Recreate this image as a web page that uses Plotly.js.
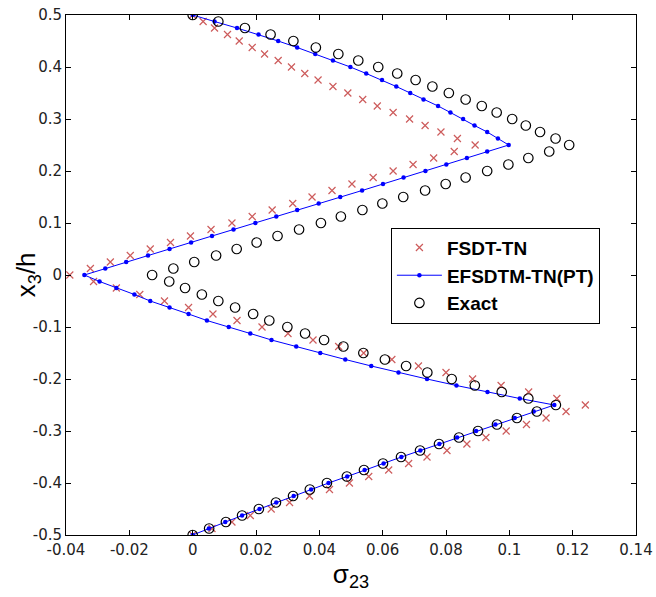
<!DOCTYPE html>
<html>
<head>
<meta charset="utf-8">
<script src="https://cdn.plot.ly/plotly-3.0.1.min.js"></script>
<style>
html,body{margin:0;padding:0;background:#fff;}
#chart{width:656px;height:597px;}
</style>
</head>
<body>
<div id="chart"></div>
<script>
// through-thickness coordinate x3/h (shared by all series)
const x3h = [-0.5,-0.4875,-0.475,-0.4625,-0.45,-0.4375,-0.425,-0.4125,-0.4,-0.3875,-0.375,-0.3625,-0.35,-0.3375,-0.325,-0.3125,-0.3,-0.2875,-0.275,-0.2625,
  -0.25,-0.2375,-0.225,-0.2125,-0.2,-0.1875,-0.175,-0.1625,-0.15,-0.1375,-0.125,-0.1125,-0.1,-0.0875,-0.075,-0.0625,-0.05,-0.0375,-0.025,-0.0125,
  0,0.0125,0.025,0.0375,0.05,0.0625,0.075,0.0875,0.1,0.1125,0.125,0.1375,0.15,0.1625,0.175,0.1875,0.2,0.2125,0.225,0.2375,
  0.25,0.2625,0.275,0.2875,0.3,0.3125,0.325,0.3375,0.35,0.3625,0.375,0.3875,0.4,0.4125,0.425,0.4375,0.45,0.4625,0.475,0.4875,0.5];

// sigma_23 : FSDT-TN
const fsdtTN = [0,0.0061,0.0124,0.0182,0.0248,0.0306,0.0369,0.0432,0.0495,0.0556,0.0619,0.0682,0.0740,0.0803,0.0866,0.0926,0.0990,0.1054,0.1116,0.1179,
  0.1240,0.1150,0.1061,0.0974,0.0884,0.0800,0.0713,0.0629,0.0540,0.0461,0.0380,0.0301,0.0219,0.0140,0.0064,-0.0013,-0.0089,-0.0167,-0.0241,-0.0313,
  -0.0388,-0.0323,-0.0260,-0.0197,-0.0134,-0.0070,-0.0007,0.0058,0.0124,0.0188,0.0251,0.0316,0.0377,0.0440,0.0503,0.0570,0.0633,0.0696,0.0761,0.0826,
  0.0892,0.0836,0.0784,0.0734,0.0685,0.0633,0.0583,0.0537,0.0490,0.0443,0.0396,0.0354,0.0312,0.0270,0.0227,0.0188,0.0147,0.0110,0.0069,0.0033,0];

// sigma_23 : EFSDTM-TN(PT)
const efsdtmTN = [0,0.0051,0.0103,0.0156,0.0211,0.0264,0.0319,0.0374,0.0429,0.0488,0.0543,0.0603,0.0659,0.0719,0.0779,0.0835,0.0895,0.0956,0.1017,0.1077,
  0.1142,0.1033,0.0931,0.0833,0.0740,0.0650,0.0564,0.0482,0.0403,0.0327,0.0249,0.0182,0.0114,0.0045,-0.0013,-0.0073,-0.0134,-0.0184,-0.0241,-0.0294,
  -0.0342,-0.0276,-0.0210,-0.0141,-0.0073,-0.0005,0.0061,0.0129,0.0198,0.0264,0.0330,0.0398,0.0466,0.0535,0.0601,0.0666,0.0735,0.0801,0.0866,0.0930,
  0.0998,0.0964,0.0930,0.0890,0.0854,0.0814,0.0775,0.0729,0.0687,0.0643,0.0598,0.0548,0.0498,0.0443,0.0387,0.0330,0.0270,0.0208,0.0140,0.0069,0];

// sigma_23 : Exact
const exact = [0,0.0052,0.0105,0.0156,0.0209,0.0263,0.0317,0.0370,0.0424,0.0487,0.0541,0.0601,0.0658,0.0718,0.0778,0.0841,0.0901,0.0961,0.1024,0.1087,
  0.1147,0.1060,0.0976,0.0891,0.0818,0.0741,0.0674,0.0607,0.0539,0.0476,0.0415,0.0355,0.0299,0.0242,0.0191,0.0134,0.0081,0.0029,-0.0024,-0.0074,
  -0.0128,-0.0061,0.0005,0.0074,0.0139,0.0202,0.0268,0.0336,0.0405,0.0468,0.0536,0.0599,0.0665,0.0734,0.0799,0.0862,0.0930,0.0997,0.1060,0.1126,
  0.1189,0.1146,0.1097,0.1052,0.1009,0.0960,0.0913,0.0862,0.0809,0.0757,0.0704,0.0646,0.0586,0.0523,0.0460,0.0389,0.0318,0.0246,0.0165,0.0081,0];

const seriesNames = ['FSDT-TN','EFSDTM-TN(PT)','Exact'];
const xTickVals = [-0.04,-0.02,0,0.02,0.04,0.06,0.08,0.1,0.12,0.14];
const xTickText = ['-0.04','-0.02','0','0.02','0.04','0.06','0.08','0.1','0.12','0.14'];
const yTickVals = [-0.5,-0.4,-0.3,-0.2,-0.1,0,0.1,0.2,0.3,0.4,0.5];
const yTickText = ['-0.5','-0.4','-0.3','-0.2','-0.1','0','0.1','0.2','0.3','0.4','0.5'];
const xTitle = 'σ<sub>23</sub>';
const yTitle = 'x<sub>3</sub>/h';

const traces = [
  {x: fsdtTN, y: x3h, name: seriesNames[0], type: 'scatter', mode: 'markers',
   marker: {symbol: 'x-thin', size: 7, line: {color: '#cd5c5c', width: 1.2}, color: '#cd5c5c'}},
  {x: efsdtmTN, y: x3h, name: seriesNames[1], type: 'scatter', mode: 'lines+markers',
   line: {color: '#0000ff', width: 1},
   marker: {symbol: 'circle', size: 4.5, color: '#0000ff'}},
  {x: exact, y: x3h, name: seriesNames[2], type: 'scatter', mode: 'markers',
   marker: {symbol: 'circle-open', size: 9.5, color: '#000000', line: {color: '#000000', width: 1.2}}}
];

const axisCommon = {
  showgrid: false, zeroline: false, showline: true, linecolor: '#000', linewidth: 1,
  mirror: 'ticks', ticks: 'inside', ticklen: 5, tickwidth: 1, tickcolor: '#000',
  tickfont: {family: 'DejaVu Sans, Arial, sans-serif', size: 15, color: '#222'}
};

const layout = {
  width: 656, height: 597,
  margin: {l: 66, r: 20, t: 15, b: 62},
  paper_bgcolor: '#fff', plot_bgcolor: '#fff',
  showlegend: true,
  xaxis: Object.assign({}, axisCommon, {
    range: [-0.04, 0.14], tickmode: 'array', tickvals: xTickVals, ticktext: xTickText,
    ticklabelstandoff: 1,
    title: {text: xTitle, font: {family: 'Liberation Sans, Arial, sans-serif', size: 26, color: '#000'}, standoff: 3}
  }),
  yaxis: Object.assign({}, axisCommon, {
    range: [-0.5, 0.5], tickmode: 'array', tickvals: yTickVals, ticktext: yTickText,
    title: {text: ''}
  }),
  annotations: [
    {text: yTitle, xref: 'paper', yref: 'paper', x: -0.068, y: 0.5, xanchor: 'center', yanchor: 'middle',
     textangle: -90, showarrow: false,
     font: {family: 'Liberation Sans, Arial, sans-serif', size: 26, color: '#000'}}
  ],
  legend: {
    x: 0.570, y: 0.591, xanchor: 'left', yanchor: 'top',
    bgcolor: '#fff', bordercolor: '#000', borderwidth: 1,
    font: {family: 'Liberation Sans, Arial, sans-serif', size: 19, color: '#000', weight: 'bold'},
    itemwidth: 45, tracegroupgap: 0
  }
};

Plotly.newPlot('chart', traces, layout, {displayModeBar: false, staticPlot: true});
</script>
</body>
</html>
